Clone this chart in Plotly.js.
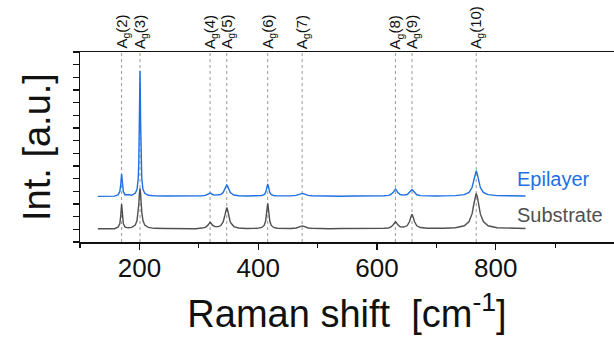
<!DOCTYPE html>
<html>
<head>
<meta charset="utf-8">
<script src="https://cdn.plot.ly/plotly-3.0.1.min.js"></script>
<style>html,body{margin:0;padding:0;background:#fff;}#chart{width:614px;height:339px;}</style>
</head>
<body>
<div id="chart"></div>
<script>
// Raman shift grid (cm^-1)
var ramanShift = [130,140,150,158,164,167,168.5,169.3,170,170.7,171.5,173,176,181,
  187,193,196,198,199,200,200.5,201,201.5,202,203,204,206,209,215,225,245,270,295,
  305,311,315,317,319,321,323,327,333,337,341,344,346,347,348,350,353,359,367,380,
  398,406,410,412.5,414,415,416,417,418,419.5,422,426,432,442,
  455,464,468,471,474,477,480,484,490,500,520,540,560,580,600,
  612,619,623,627,629,631,633,635,639,645,651,655,657,659,661,663,667,673,685,700,
  712,732,747,755,760,763,765,767,769,771,774,779,787,802,822,850];

// Epilayer spectrum (offset, arbitrary units)
var epilayer = [3.60,3.62,3.61,3.62,3.72,3.97,4.50,5.06,5.37,5.06,4.50,3.97,3.72,3.75,
  3.69,3.84,4.16,4.99,6.24,9.46,12.05,13.52,12.05,9.46,6.24,4.99,4.16,3.84,3.69,3.64,3.63,3.61,3.62,
  3.64,3.68,3.74,3.81,3.86,3.82,3.75,3.70,3.70,3.75,3.90,4.19,4.45,4.50,4.45,4.19,3.90,3.71,3.65,3.63,
  3.64,3.67,3.74,3.91,4.17,4.43,4.58,4.43,4.17,3.91,3.74,3.67,3.64,3.63,
  3.64,3.68,3.73,3.80,3.84,3.80,3.73,3.68,3.65,3.63,3.64,3.61,3.63,3.62,3.63,
  3.65,3.68,3.74,3.90,4.07,4.18,4.07,3.91,3.75,3.70,3.75,3.90,4.05,4.15,4.05,3.89,3.73,3.66,3.63,3.63,
  3.64,3.66,3.74,3.92,4.30,4.84,5.34,5.62,5.34,4.84,4.30,3.92,3.74,3.66,3.64,3.63];

// Substrate spectrum (offset, arbitrary units)
var substrate = [1.05,1.04,1.06,1.05,1.17,1.44,2.03,2.65,3.00,2.65,2.03,1.44,1.17,1.12,
  1.15,1.33,1.69,2.36,3.00,3.80,4.12,4.24,4.12,3.80,3.00,2.36,1.69,1.33,1.15,1.08,1.06,1.05,1.05,
  1.10,1.16,1.31,1.46,1.55,1.46,1.33,1.21,1.21,1.30,1.58,2.12,2.62,2.72,2.62,2.12,1.57,1.22,1.11,1.07,
  1.08,1.15,1.31,1.65,2.19,2.73,3.05,2.73,2.19,1.65,1.31,1.15,1.09,1.07,
  1.07,1.11,1.16,1.23,1.27,1.23,1.16,1.11,1.08,1.06,1.05,1.06,1.05,1.06,1.05,
  1.08,1.11,1.17,1.33,1.49,1.60,1.50,1.35,1.20,1.18,1.30,1.63,1.97,2.19,1.96,1.62,1.28,1.14,1.09,1.08,
  1.08,1.13,1.28,1.61,2.22,2.98,3.56,3.84,3.56,2.98,2.22,1.61,1.28,1.13,1.08,1.06];

// Ag mode positions and labels
var modePositions = [170,201,319,347,416,474,631,659,767];
var modeLabels = ['A<sub>g</sub>(2)','A<sub>g</sub>(3)','A<sub>g</sub>(4)','A<sub>g</sub>(5)','A<sub>g</sub>(6)',
  'A<sub>g</sub>(7)','A<sub>g</sub>(8)','A<sub>g</sub>(9)','A<sub>g</sub>(10)'];

var seriesNames = ['Epilayer','Substrate'];
var seriesLabelX = [832, 832];
var seriesLabelY = [4.97, 2.13];
var xTickStep = 200;

var blue = '#1f6fe5', grey = '#505050';
var font = 'Liberation Sans, Arial, sans-serif';

var traces = [
  {x: ramanShift, y: substrate, type: 'scatter', mode: 'lines', name: seriesNames[1],
   line: {color: grey, width: 1.4}},
  {x: ramanShift, y: epilayer, type: 'scatter', mode: 'lines', name: seriesNames[0],
   line: {color: blue, width: 1.4}}
];

var shapes = modePositions.map(function (p) {
  return {type: 'line', xref: 'x', yref: 'paper', x0: p, x1: p, y0: 0, y1: 1,
          line: {color: '#9a9a9a', width: 1, dash: 'dot'}, layer: 'below'};
});

var annotations = modePositions.map(function (p, i) {
  return {x: p, y: 1, xref: 'x', yref: 'paper', text: modeLabels[i], showarrow: false,
          textangle: -90, xanchor: 'center', yanchor: 'bottom', yshift: 1,
          font: {family: font, size: 15, color: '#111'}};
});
annotations.push({x: seriesLabelX[0], y: seriesLabelY[0], xref: 'x', yref: 'y', text: seriesNames[0],
  showarrow: false, xanchor: 'left', yanchor: 'middle', font: {family: font, size: 20, color: blue}});
annotations.push({x: seriesLabelX[1], y: seriesLabelY[1], xref: 'x', yref: 'y', text: seriesNames[1],
  showarrow: false, xanchor: 'left', yanchor: 'middle', font: {family: font, size: 20, color: grey}});

var layout = {
  width: 614, height: 339,
  margin: {l: 80, r: 0, t: 52, b: 97},
  paper_bgcolor: '#fff', plot_bgcolor: '#fff',
  showlegend: false,
  font: {family: font, color: '#111'},
  xaxis: {
    range: [100, 999], tick0: 0, dtick: xTickStep,
    showgrid: false, zeroline: false,
    showline: true, linecolor: '#111', linewidth: 1.5, mirror: true,
    ticks: 'outside', ticklen: 6, tickwidth: 1.2, tickcolor: '#111',
    ticklabelstandoff: -4,
    minor: {dtick: 100, ticks: 'outside', ticklen: 4, tickwidth: 1.2, tickcolor: '#111', showgrid: false},
    tickfont: {family: font, size: 26, color: '#111'},
    title: {text: 'Raman shift  [cm<sup>-1</sup>]', font: {family: font, size: 38, color: '#111'}, standoff: 18}
  },
  yaxis: {
    range: [0, 15], tick0: 0, dtick: 1,
    showgrid: false, zeroline: false,
    showline: true, linecolor: '#111', linewidth: 1.5,
    ticks: 'outside', ticklen: 6, tickwidth: 1.2, tickcolor: '#111',
    showticklabels: false,
    title: {text: 'Int. [a.u.]', font: {family: font, size: 38, color: '#111'}, standoff: 10}
  },
  shapes: shapes,
  annotations: annotations
};

Plotly.newPlot('chart', traces, layout, {staticPlot: true, displayModeBar: false});
</script>
</body>
</html>
